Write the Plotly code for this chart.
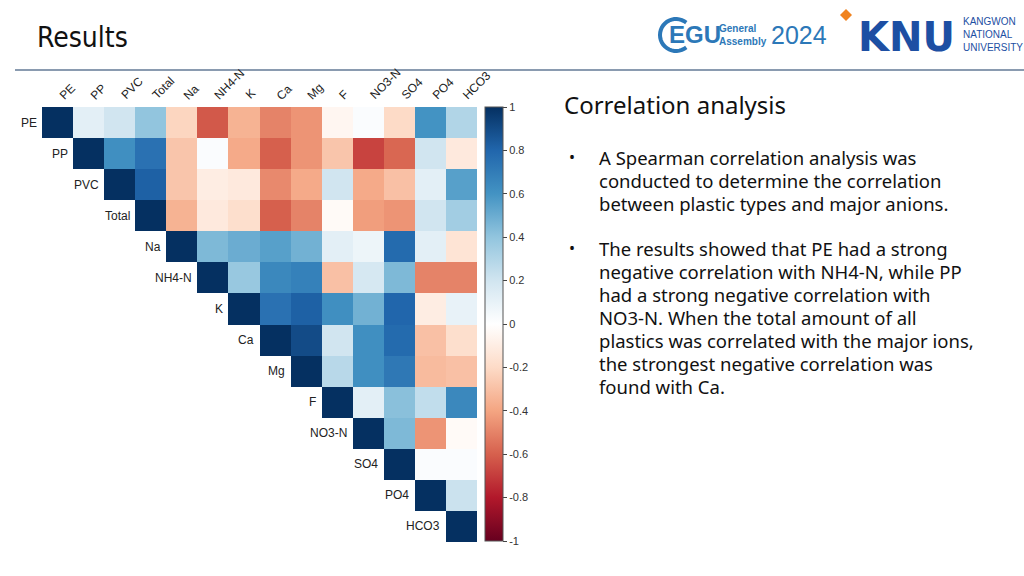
import math
import plotly.graph_objects as go

labels = ["PE", "PP", "PVC", "Total", "Na", "NH4-N", "K", "Ca", "Mg", "F",
          "NO3-N", "SO4", "PO4", "HCO3"]

# upper-triangle correlation values, one list per row (starting at the diagonal)
row_PE = [1, 0.12, 0.2, 0.4, -0.22, -0.62, -0.35, -0.5, -0.45, -0.05, 0.02, -0.2, 0.6, 0.3]
row_PP = [1, 0.62, 0.75, -0.28, 0.02, -0.38, -0.6, -0.45, -0.28, -0.68, -0.58, 0.2, -0.12]
row_PVC = [1, 0.82, -0.28, -0.1, -0.12, -0.48, -0.38, 0.2, -0.38, -0.3, 0.12, 0.55]
row_Total = [1, -0.35, -0.12, -0.18, -0.6, -0.5, -0.03, -0.42, -0.45, 0.2, 0.35]
row_Na = [1, 0.45, 0.5, 0.55, 0.48, 0.12, 0.08, 0.78, 0.12, -0.15]
row_NH4N = [1, 0.38, 0.65, 0.68, -0.3, 0.18, 0.45, -0.5, -0.5]
row_K = [1, 0.75, 0.82, 0.62, 0.48, 0.8, -0.1, 0.1]
row_Ca = [1, 0.9, 0.2, 0.62, 0.78, -0.3, -0.18]
row_Mg = [1, 0.28, 0.62, 0.72, -0.32, -0.3]
row_F = [1, 0.12, 0.42, 0.25, 0.65]
row_NO3N = [1, 0.45, -0.45, -0.03]
row_SO4 = [1, 0.02, 0.02]
row_PO4 = [1, 0.22]
row_HCO3 = [1]

rows = [row_PE, row_PP, row_PVC, row_Total, row_Na, row_NH4N, row_K, row_Ca,
        row_Mg, row_F, row_NO3N, row_SO4, row_PO4, row_HCO3]

cbar_vals = [1, 0.8, 0.6, 0.4, 0.2, 0, -0.2, -0.4, -0.6, -0.8, -1]
cbar_text = ["1", "0.8", "0.6", "0.4", "0.2", "0", "-0.2", "-0.4", "-0.6", "-0.8", "-1"]

n = len(labels)
z = []
for i, r in enumerate(rows):
    z.append([None] * i + list(r))

rdbu = ["#67001F", "#B2182B", "#D6604D", "#F4A582", "#FDDBC7", "#FFFFFF",
        "#D1E5F0", "#92C5DE", "#4393C3", "#2166AC", "#053061"]
colorscale = [[k / 10, c] for k, c in enumerate(rdbu)]

W, H = 1024, 576
x0, x1 = 42, 477
y0, y1 = 107, 542

fig = go.Figure()
fig.add_trace(go.Heatmap(
    z=z, x=labels, y=labels, zmin=-1, zmax=1, colorscale=colorscale,
    hoverongaps=False, xgap=0, ygap=0,
    colorbar=dict(
        x=485 / W, xanchor="left", thickness=18, thicknessmode="pixels",
        y=1 - (y0 + 541) / 2 / H, yanchor="middle", len=(541 - y0) / H, lenmode="fraction",
        tickvals=cbar_vals, ticktext=cbar_text, ticks="outside", ticklen=4,
        tickcolor="#444", tickwidth=1,
        outlinewidth=1, outlinecolor="#555",
        tickfont=dict(family="Liberation Sans, Arial, sans-serif", size=11, color="#333"),
        xpad=0, ypad=0,
    ),
))

label_font = dict(family="Liberation Sans, Arial, sans-serif", size=12, color="#222")
annotations = []
for i, lab in enumerate(labels):
    annotations.append(dict(
        x=lab, y=-0.5, xref="x", yref="y", text=lab, showarrow=False,
        textangle=-45, xanchor="left", yanchor="bottom", xshift=-4, yshift=2,
        font=label_font))
    annotations.append(dict(
        x=lab, y=lab, xref="x", yref="y", text=lab, showarrow=False,
        xanchor="right", yanchor="middle", xshift=-19, font=label_font))

body_font = "Noto Sans, Open Sans, sans-serif"
annotations.append(dict(
    x=562 / W, y=1 - 105 / H, xref="paper", yref="paper", text="Correlation analysis",
    showarrow=False, xanchor="left", yanchor="middle",
    font=dict(family=body_font, size=24, color="#111")))

bullet1 = ["A Spearman correlation analysis was",
           "conducted to determine the correlation",
           "between plastic types and major anions."]
bullet2 = ["The results showed that PE had a strong",
           "negative correlation with NH4-N, while PP",
           "had a strong negative correlation with",
           "NO3-N. When the total amount of all",
           "plastics was correlated with the major ions,",
           "the strongest negative correlation was",
           "found with Ca."]
for start, lines in [(157, bullet1), (248, bullet2)]:
    annotations.append(dict(
        x=567 / W, y=1 - start / H, xref="paper", yref="paper", text="•",
        showarrow=False, xanchor="left", yanchor="middle",
        font=dict(family=body_font, size=16, color="#111")))
    for k, line in enumerate(lines):
        annotations.append(dict(
            x=597 / W, y=1 - (start + 23 * k) / H, xref="paper", yref="paper", text=line,
            showarrow=False, xanchor="left", yanchor="middle",
            font=dict(family=body_font, size=18.5, color="#111")))

annotations.append(dict(
    x=35 / W, y=1 - 38 / H, xref="paper", yref="paper", text="Results",
    showarrow=False, xanchor="left", yanchor="middle",
    font=dict(family="Liberation Sans Narrow, DejaVu Sans Condensed, sans-serif", size=28, color="#111")))

egu_blue = "#2c78b8"
annotations += [
    dict(x=667 / W, y=1 - 35 / H, xref="paper", yref="paper", text="<b>EGU</b>", showarrow=False,
         xanchor="left", yanchor="middle",
         font=dict(family="Liberation Sans, Arial, sans-serif", size=24, color=egu_blue)),
    dict(x=717 / W, y=1 - 35 / H, xref="paper", yref="paper", text="<b>General<br>Assembly</b>",
         showarrow=False, xanchor="left", yanchor="middle", align="left",
         font=dict(family="Liberation Sans, Arial, sans-serif", size=10, color=egu_blue)),
    dict(x=769 / W, y=1 - 35 / H, xref="paper", yref="paper", text="2024", showarrow=False,
         xanchor="left", yanchor="middle",
         font=dict(family="Liberation Sans, Arial, sans-serif", size=25, color=egu_blue)),
    dict(x=856 / W, y=1 - 37 / H, xref="paper", yref="paper", text="<b>KNU</b>", showarrow=False,
         xanchor="left", yanchor="middle",
         font=dict(family="DejaVu Sans, sans-serif", size=40, color="#1d4fa3")),
    dict(x=961 / W, y=1 - 35 / H, xref="paper", yref="paper",
         text="KANGWON<br>NATIONAL<br>UNIVERSITY", showarrow=False,
         xanchor="left", yanchor="middle", align="left",
         font=dict(family="Liberation Sans, Arial, sans-serif", size=10, color="#1d4fa3")),
]

# EGU open ring (logo decoration)
cx, cy, rr = 676, 35, 16
pts = []
for k in range(0, 29):
    ang = math.radians(50 + k * 260 / 28)
    pts.append((cx + rr * math.cos(ang), cy - rr * math.sin(ang)))
ring_path = "M " + " L ".join("{:.5f},{:.5f}".format(px / W, 1 - py / H) for px, py in pts)

shapes = [
    dict(type="line", xref="paper", yref="paper", x0=15 / W, x1=1.0, y0=1 - 70 / H, y1=1 - 70 / H,
         line=dict(color="#8a9bb0", width=2)),
    dict(type="path", xref="paper", yref="paper", path=ring_path,
         line=dict(color=egu_blue, width=4)),
    dict(type="path", xref="paper", yref="paper",
         path="M {} {} L {} {} L {} {} L {} {} Z".format(
             846 / W, 1 - 9 / H, 852 / W, 1 - 15 / H, 846 / W, 1 - 21 / H, 840 / W, 1 - 15 / H),
         fillcolor="#f0821e", line=dict(width=0)),
]

fig.update_layout(
    width=W, height=H, margin=dict(l=0, r=0, t=0, b=0),
    paper_bgcolor="white", plot_bgcolor="white",
    xaxis=dict(domain=[x0 / W, x1 / W], showticklabels=False, showgrid=False, zeroline=False,
               ticks="", range=[-0.5, n - 0.5]),
    yaxis=dict(domain=[1 - y1 / H, 1 - y0 / H], showticklabels=False, showgrid=False, zeroline=False,
               ticks="", range=[n - 0.5, -0.5]),
    annotations=annotations, shapes=shapes, showlegend=False,
)

fig.write_html("out.html", config={"displayModeBar": False},
               post_script="document.body.style.margin='0px';")
